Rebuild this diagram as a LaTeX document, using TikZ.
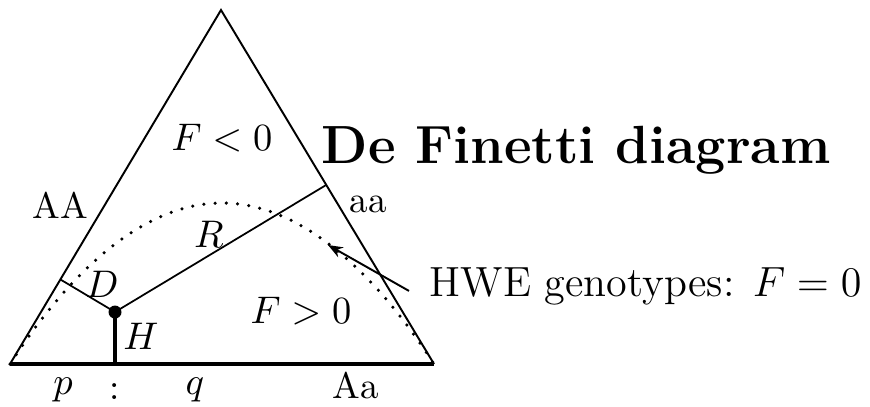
\documentclass[tikz,border=0pt]{standalone}
\usepackage{amsmath}
\usepackage{tikz}
\usetikzlibrary{arrows.meta,calc}

\begin{document}
\begin{tikzpicture}[
  >=Stealth,
  font=\fontsize{10.5pt}{12pt}\selectfont,
  side/.style={
    line width=0.55pt
  },
  baseline/.style={
    line width=0.95pt
  },
  perp/.style={
    line width=0.5pt
  },
  hwe/.style={
    line width=1pt,
    line cap=round,
    dash pattern=on 0pt off 3.2pt
  },
  pointer/.style={
    -{Stealth[length=4.2pt,width=3.2pt]},
    line width=0.55pt
  },
  lbl/.style={
    inner sep=1pt
  },
  title/.style={
    font=\fontsize{15.3pt}{18pt}\selectfont\bfseries,
    inner sep=0pt
  }
]
\useasboundingbox (0,0) rectangle (8.70,4.06);

%-----------------------------
% Triangle corners
%-----------------------------
\coordinate (A) at (0.10,0.42);
\coordinate (B) at (4.34,0.42);
\coordinate (C) at (2.21,3.96);
\coordinate (top) at (2.22,2.03);

\draw[side] (A) -- (C) -- (B);
\draw[baseline] (A) -- (B);

%-----------------------------
% HWE parabola
%-----------------------------
\draw[hwe] (A) parabola bend (top) (B);

%-----------------------------
% Genotype point and its distances
%-----------------------------
\coordinate (P) at (1.15,0.94);
\coordinate (footH) at ($(A)!(P)!(B)$);
\coordinate (footD) at ($(A)!(P)!(C)$);
\coordinate (footR) at ($(B)!(P)!(C)$);

\draw[baseline] (P) -- (footH);
\draw[perp] (P) -- (footD);
\draw[perp] (P) -- (footR);
\fill (P) circle (0.065);

%-----------------------------
% Labels
%-----------------------------
\node[lbl] (AAlbl) at (0.60,2.01) {AA};
\node[lbl] (aalbl) at (3.68,2.02) {aa};
\node[lbl] (Dlbl) at (1.02,1.22) {$D$};
\node[lbl] (Hlbl) at (1.41,0.70) {$H$};
\node[lbl] (Rlbl) at (2.09,1.72) {$R$};
\node[lbl] (Fneg) at (2.22,2.68) {$F<0$};
\node[lbl] (Fpos) at (3.01,0.945) {$F>0$};

\node[anchor=south,inner sep=0pt] (plbl) at (0.63,0.03) {$p$};
\node[anchor=south,inner sep=0pt] (colon) at (1.15,0.06) {:};
\node[anchor=south,inner sep=0pt] (qlbl) at (1.95,0.03) {$q$};
\node[anchor=south,inner sep=0pt] (Aalbl) at (3.56,0.06) {Aa};

\node[title,anchor=base west] (title) at (3.21,2.43) {De Finetti diagram};

%-----------------------------
% HWE label and pointer
%-----------------------------
\coordinate (hwept) at (3.28,1.61);
\node[font=\large,anchor=base west,inner sep=0pt] (hwelbl) at (4.29,1.10) {HWE genotypes: $F=0$};
\draw[pointer] ([xshift=-2mm,yshift=-0.5mm]hwelbl.west) -- (hwept);

\end{tikzpicture}
\end{document}
